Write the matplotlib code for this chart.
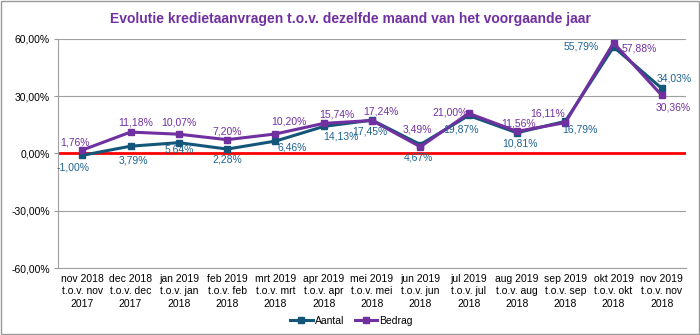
import matplotlib
matplotlib.use("Agg")
import matplotlib.pyplot as plt
from matplotlib.patches import Rectangle

plt.rcParams["font.family"] = ["Liberation Sans", "DejaVu Sans"]

# ── data ────────────────────────────────────────────────────────────────────
categories = [
    "nov 2018\nt.o.v. nov\n2017", "dec 2018\nt.o.v. dec\n2017", "jan 2019\nt.o.v. jan\n2018",
    "feb 2019\nt.o.v. feb\n2018", "mrt 2019\nt.o.v. mrt\n2018", "apr 2019\nt.o.v. apr\n2018",
    "mei 2019\nt.o.v. mei\n2018", "jun 2019\nt.o.v. jun\n2018", "jul 2019\nt.o.v. jul\n2018",
    "aug 2019\nt.o.v. aug\n2018", "sep 2019\nt.o.v. sep\n2018", "okt 2019\nt.o.v. okt\n2018",
    "nov 2019\nt.o.v. nov\n2018",
]
aantal = [-1.00, 3.79, 5.64, 2.28, 6.46, 14.13, 17.45, 4.67, 19.87, 10.81, 16.79, 55.79, 34.03]
bedrag = [1.76, 11.18, 10.07, 7.20, 10.20, 15.74, 17.24, 3.49, 21.00, 11.56, 16.11, 57.88, 30.36]
yticks = [-60, -30, 0, 30, 60]

# label offsets in pixels (Excel label placement)
aantal_off = [(-9, -12), (3, -14), (0, -7), (0, -10), (17, -6), (17, -10), (-2, -11),
              (-2, -13), (-8, -14), (3, -11), (15, -8), (-32, 0), (12, 10)]
bedrag_off = [(-7, 8), (5, 10), (0, 12), (0, 8), (13, 12), (13, 9), (9, 9),
              (-3, 17), (-19, 1), (2, 8), (-18, 9), (26, -6), (11, -12)]

C_AANTAL = "#14567A"
C_BEDRAG = "#7030A0"
C_LAB_A = "#1F6391"

fig = plt.figure(figsize=(7, 3.35), dpi=100)
ax = fig.add_axes([0.083, 0.2, 0.897, 0.684])

x = list(range(len(categories)))
ax.plot(x, aantal, color=C_AANTAL, linewidth=2.2, marker="s", markersize=4.5, label="Aantal", zorder=3)
ax.plot(x, bedrag, color=C_BEDRAG, linewidth=2.2, marker="s", markersize=4.5, label="Bedrag", zorder=4)
ax.axhline(0, color="#FF0000", linewidth=2, zorder=2)

def fmt(v):
    return f"{v:.2f}%".replace(".", ",")

for i, v in enumerate(aantal):
    ax.annotate(fmt(v), (i, v), xytext=aantal_off[i], textcoords="offset pixels",
                ha="center", va="center", fontsize=7.5, color=C_LAB_A, zorder=5)
for i, v in enumerate(bedrag):
    ax.annotate(fmt(v), (i, v), xytext=bedrag_off[i], textcoords="offset pixels",
                ha="center", va="center", fontsize=7.5, color=C_BEDRAG, zorder=5)

ax.set_xlim(-0.5, len(categories) - 0.5)
ax.set_ylim(-60, 60)
ax.set_yticks(yticks)
ax.set_yticklabels([f"{t:.2f}%".replace(".", ",") for t in yticks], fontsize=7.5)
ax.set_xticks(x)
ax.set_xticklabels(categories, fontsize=7.5, linespacing=1.35)
ax.tick_params(axis="x", length=0, pad=4)
ax.tick_params(axis="y", length=3, color="#999999", pad=3)
ax.grid(axis="y", color="#A0A0A0", linewidth=0.8, zorder=0)
for side in ["top", "right"]:
    ax.spines[side].set_visible(False)
ax.spines["left"].set_color("#A0A0A0")
ax.spines["bottom"].set_color("#A0A0A0")

fig.suptitle("Evolutie kredietaanvragen t.o.v. dezelfde maand van het voorgaande jaar",
             x=0.5, y=0.965, fontsize=10, fontweight="bold", color=C_BEDRAG)

fig.legend(loc="center", bbox_to_anchor=(0.502, 0.042), ncol=2, frameon=False, fontsize=7.5,
           handlelength=2.2, handletextpad=0.2, columnspacing=1.0)

fig.patches.append(Rectangle((0.002, 0.003), 0.996, 0.994, transform=fig.transFigure,
                             fill=False, edgecolor="#999999", linewidth=1))

fig.savefig("out.png", dpi=100)
